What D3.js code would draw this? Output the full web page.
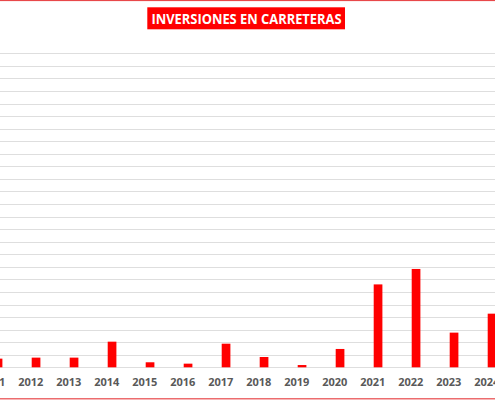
<!DOCTYPE html>
<html>
<head>
<meta charset="utf-8">
<script src="https://cdn.jsdelivr.net/npm/d3@7"></script>
<style>
  body { margin: 0; background: #fff; }
  svg { display: block; }
</style>
</head>
<body>
<div id="chart"></div>
<script>
// data (grid units, 25 gridlines)
const years = ["2011", "2012", "2013", "2014", "2015", "2016", "2017",
               "2018", "2019", "2020", "2021", "2022", "2023", "2024"]
const inversion = [0.69, 0.77, 0.77, 2.04, 0.40, 0.29, 1.88,
                   0.82, 0.18, 1.46, 6.60, 7.83, 2.76, 4.27]
const yTicks = d3.range(0, 26, 1)
const title = "INVERSIONES EN CARRETERAS"

const width = 495
const height = 400
const margin = { top: 53.3, bottom: 32.7, left: -26.2, right: -10.8 }

const svg = d3.select("#chart")
    .append("svg")
    .attr("width", width)
    .attr("height", height)

// outer red frame
svg.append("rect")
    .attr("x", -5).attr("y", 0.5)
    .attr("width", width + 10).attr("height", 398.3)
    .attr("fill", "none")
    .attr("stroke", "#e8484a")
    .attr("stroke-width", 1.2)

const x = d3.scaleBand()
    .domain(years)
    .range([margin.left, width - margin.right])

const y = d3.scaleLinear()
    .domain([0, 25])
    .range([height - margin.bottom, margin.top])

// gridlines
svg.append("g")
    .selectAll("line")
    .data(yTicks)
    .enter().append("line")
    .attr("x1", 0).attr("x2", width)
    .attr("y1", d => Math.round(y(d)) + 0.5)
    .attr("y2", d => Math.round(y(d)) + 0.5)
    .attr("stroke", "#dedede")
    .attr("stroke-width", 1)

// bars sit right of category centre
const barW = 8.7
svg.append("g")
    .selectAll("rect")
    .data(years)
    .enter().append("rect")
    .attr("x", d => x(d) + x.bandwidth() / 2 + 0.9)
    .attr("width", barW)
    .attr("y", (d, i) => y(inversion[i]))
    .attr("height", (d, i) => y(0) - y(inversion[i]))
    .attr("fill", "#ff0000")

// category labels
const xAxis = svg.append("g")
    .attr("transform", `translate(0, ${y(0)})`)
    .call(d3.axisBottom(x).tickSize(0).tickPadding(11))
xAxis.select(".domain").remove()
xAxis.selectAll("text")
    .attr("font-family", "'Open Sans', sans-serif")
    .attr("font-size", 11)
    .attr("font-weight", "bold")
    .attr("fill", "#595959")

// title box
svg.append("rect")
    .attr("x", 147.3).attr("y", 7.3)
    .attr("width", 197.7).attr("height", 22)
    .attr("fill", "#ff0000")

svg.append("text")
    .attr("x", 246.5).attr("y", 23.8)
    .attr("text-anchor", "middle")
    .attr("font-family", "'Open Sans', sans-serif")
    .attr("font-size", 13.5)
    .attr("font-weight", "bold")
    .attr("fill", "#fff")
    .attr("textLength", 190)
    .attr("lengthAdjust", "spacingAndGlyphs")
    .text(title)
</script>
</body>
</html>
